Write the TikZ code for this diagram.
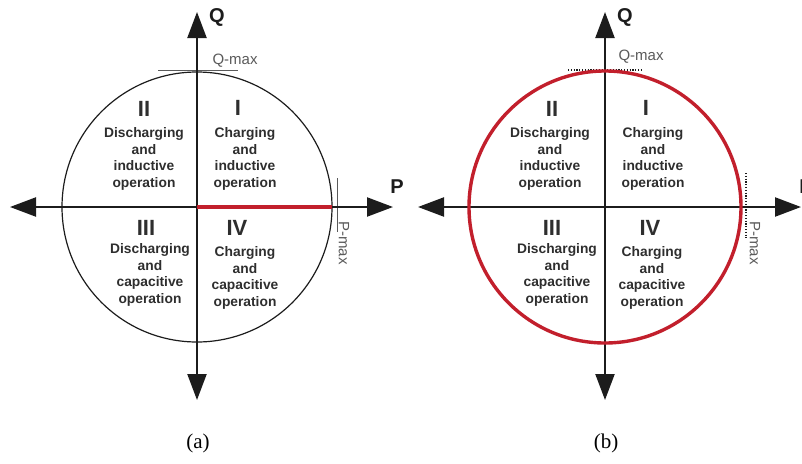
\documentclass[tikz,border=0pt]{standalone}
\usepackage{fontspec}
\setmainfont{Liberation Sans}
\newfontfamily\capfont{Liberation Serif}
\usepackage{xcolor}
\definecolor{ink}{HTML}{1C1C1C}
\definecolor{txt}{HTML}{2E2E2E}
\definecolor{dim}{HTML}{5A5A5A}
\definecolor{limitred}{HTML}{C21F2C}
\usetikzlibrary{arrows.meta,positioning}

\begin{document}
\begin{tikzpicture}[
  x=1pt, y=-1pt,
  axis/.style={line width=2.2pt, color=ink,
    {Triangle[length=26pt,width=19pt]}-{Triangle[length=26pt,width=19pt]}},
  ring/.style={line width=1.2pt, color=ink},
  redring/.style={line width=3.4pt, color=limitred},
  redline/.style={line width=3.6pt, color=limitred},
  guide/.style={line width=0.7pt, color=dim},
  dotguide/.style={line width=1.6pt, color=ink, dash pattern=on 1.2pt off 1.6pt},
  numeral/.style={font=\fontsize{22}{24}\selectfont\bfseries, text=txt, inner sep=0pt},
  quad/.style={font=\fontsize{13.8}{16.5}\selectfont\bfseries, text=txt, align=center, inner sep=0pt},
  axlabel/.style={font=\fontsize{20}{22}\selectfont\bfseries, text=ink, inner sep=0pt},
  limlabel/.style={font=\fontsize{15}{17}\selectfont, text=dim, inner sep=0pt},
  caption/.style={font=\capfont\fontsize{21}{23}\selectfont, text=black, inner sep=0pt}
]
\useasboundingbox (0,0) rectangle (802,463);

% ---------------- panel (a) ----------------
\coordinate (a-o) at (197,207);
\coordinate (a-top) at (197,12);
\coordinate (a-bot) at (197,400);
\coordinate (a-left) at (10,207);
\coordinate (a-right) at (393,207);
\coordinate (a-pmax) at (332,207);

\draw[ring] (a-o) circle (135pt);
% Q-max and P-max marks
\draw[guide] (158,70) -- (238,70);
\draw[guide] (337,178) -- (337,232);

\draw[axis] (a-bot) -- (a-top);
\draw[axis] (a-left) -- (a-right);
\draw[redline] (a-o) -- (a-pmax);

\node[axlabel] (a-Q) at (217,17) {Q};
\node[axlabel] (a-P) at (397,187) {P};
\node[limlabel] (a-qmax) at (235,61) {Q-max};
\node[limlabel, rotate=-90] (a-pmaxl) at (344,243) {P-max};

% quadrants
\node[numeral] (a-I) at (238,108) {I};
\node[quad] (a-It) at (245,159) {Charging\\and\\inductive\\operation};
\node[numeral] (a-II) at (144,109) {II};
\node[quad] (a-IIt) at (144,159) {Discharging\\and\\inductive\\operation};
\node[numeral] (a-III) at (146,228) {III};
\node[quad] (a-IIIt) at (150,275) {Discharging\\and\\capacitive\\operation};
\node[numeral] (a-IV) at (237,228) {IV};
\node[quad] (a-IVt) at (245,278) {Charging\\and\\capacitive\\operation};

\node[caption] (a-cap) at (198,443) {(a)};

% ---------------- panel (b) ----------------
\coordinate (b-o) at (605,207);
\coordinate (b-top) at (605,12);
\coordinate (b-bot) at (605,400);
\coordinate (b-left) at (418,207);
\coordinate (b-right) at (801,207);

% Q-max and P-max marks
\draw[dotguide] (568,70) -- (642,70);
\draw[dotguide] (746,173) -- (746,238);

\draw[axis] (b-bot) -- (b-top);
\draw[axis] (b-left) -- (b-right);
\draw[redring] (b-o) circle (136pt);

\node[axlabel] (b-Q) at (625,17) {Q};
\node[axlabel] (b-P) at (806,187) {P};
\node[limlabel] (b-qmax) at (641,57) {Q-max};
\node[limlabel, rotate=-90] (b-pmaxl) at (755,243) {P-max};

% quadrants
\node[numeral] (b-I) at (646,108) {I};
\node[quad] (b-It) at (653,159) {Charging\\and\\inductive\\operation};
\node[numeral] (b-II) at (552,109) {II};
\node[quad] (b-IIt) at (550,159) {Discharging\\and\\inductive\\operation};
\node[numeral] (b-III) at (552,228) {III};
\node[quad] (b-IIIt) at (557,275) {Discharging\\and\\capacitive\\operation};
\node[numeral] (b-IV) at (650,228) {IV};
\node[quad] (b-IVt) at (652,278) {Charging\\and\\capacitive\\operation};

\node[caption] (b-cap) at (606,443) {(b)};

\end{tikzpicture}
\end{document}
